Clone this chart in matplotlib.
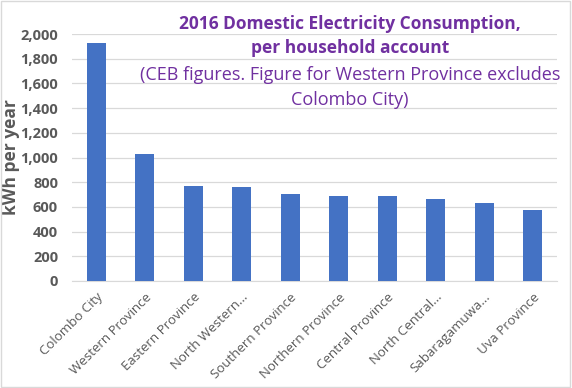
import matplotlib
matplotlib.use("Agg")
import matplotlib.pyplot as plt
from matplotlib.patches import Rectangle

categories = ["Colombo City", "Western Province", "Eastern Province", "North Western...",
              "Southern Province", "Northern Province", "Central Province", "North Central...",
              "Sabaragamuwa...", "Uva Province"]
values = [1925, 1028, 769, 759, 704, 690, 688, 665, 630, 575]
yticks = [0, 200, 400, 600, 800, 1000, 1200, 1400, 1600, 1800, 2000]

plt.rcParams['font.family'] = ['Open Sans', 'DejaVu Sans']

fig = plt.figure(figsize=(5.72, 3.88), dpi=100)
ax = fig.add_axes([72/572, 1-281/388, (557-72)/572, (281-34)/388])

ax.bar(range(len(values)), values, width=0.4, color="#4472C4", zorder=3)
ax.set_xlim(-0.5, len(values)-0.5)
ax.set_ylim(0, 2000)
ax.set_yticks(yticks)
ax.set_yticklabels([f"{v:,}" for v in yticks], fontsize=10.5, fontweight="bold", color="#595959")
ax.set_xticks(range(len(values)))
ax.set_xticklabels(categories, rotation=45, ha="right", rotation_mode="anchor",
                   fontsize=9.5, color="#595959")
ax.tick_params(axis="y", length=0, pad=10)
ax.tick_params(axis="x", length=0, pad=7)
ax.grid(axis="y", color="#D9D9D9", linewidth=0.9, zorder=0)
for s in ["top", "right", "left"]:
    ax.spines[s].set_visible(False)
ax.spines["bottom"].set_color("#D9D9D9")
ax.set_ylabel("kWh per year", fontsize=12.5, fontweight="bold", color="#595959", labelpad=0)

purple = "#7030A0"
cx = 350/572
fig.text(cx, 1-24/388, "2016 Domestic Electricity Consumption,", ha="center", va="center",
         fontsize=12.5, fontweight="bold", color=purple)
fig.text(cx, 1-48/388, "per household account", ha="center", va="center",
         fontsize=12.5, fontweight="bold", color=purple)
fig.text(cx, 1-75/388, "(CEB figures. Figure for Western Province excludes", ha="center", va="center",
         fontsize=13, color=purple)
fig.text(cx, 1-100/388, "Colombo City)", ha="center", va="center",
         fontsize=13, color=purple)

fig.patches.append(Rectangle((0.002, 0.003), 0.995, 0.994, transform=fig.transFigure,
                             fill=False, edgecolor="#D9D9D9", linewidth=1))

fig.savefig("out.png", dpi=100)
